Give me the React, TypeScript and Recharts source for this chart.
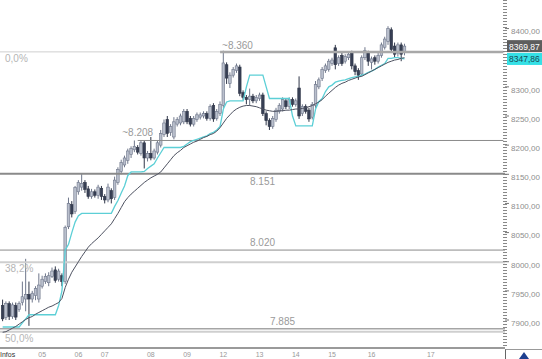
import React from 'react';
import { ComposedChart, Bar, Line, XAxis, YAxis, ReferenceLine } from 'recharts';

const opens = [
  7925, 7904, 7928, 7906, 7925, 7918, 7930, 7936, 7944, 7936,
  7942, 7936, 7958, 7966, 7964, 7975, 7986, 7970, 7976, 7966,
  8060, 8098, 8086, 8120, 8128, 8136, 8125, 8112, 8120, 8114,
  8126, 8112, 8106, 8122, 8110, 8136, 8155, 8166, 8174, 8184,
  8192, 8196, 8186, 8204, 8178, 8186, 8178, 8188, 8200, 8218,
  8244, 8222, 8214, 8236, 8238, 8240, 8258, 8246, 8236, 8244,
  8248, 8250, 8254, 8246, 8268, 8246, 8254, 8268, 8338, 8306,
  8320, 8328, 8334, 8290, 8282, 8278, 8284, 8276, 8280, 8286,
  8254, 8242, 8232, 8244, 8258, 8262, 8276, 8266, 8278, 8270,
  8298, 8254, 8266, 8260, 8248, 8268, 8300, 8314, 8328, 8330,
  8340, 8367, 8340, 8354, 8344, 8350, 8358, 8336, 8328, 8322,
  8350, 8358, 8342, 8350, 8344, 8354, 8368, 8378, 8398, 8370,
  8358, 8372, 8360,
];
const highs = [
  7935, 7932, 7932, 7930, 7930, 7932, 7966, 8005, 7966, 7950,
  7958, 7980, 7976, 7980, 7982, 7990, 7992, 7988, 7980, 8062,
  8110, 8104, 8130, 8140, 8152, 8140, 8130, 8125, 8124, 8132,
  8130, 8116, 8134, 8126, 8146, 8162, 8175, 8182, 8194, 8198,
  8208, 8200, 8208, 8208, 8190, 8214, 8194, 8208, 8226, 8244,
  8250, 8236, 8248, 8248, 8254, 8262, 8262, 8250, 8250, 8256,
  8256, 8258, 8258, 8270, 8272, 8262, 8275, 8362, 8342, 8325,
  8334, 8340, 8338, 8294, 8286, 8297, 8288, 8286, 8290, 8290,
  8258, 8246, 8250, 8264, 8272, 8282, 8280, 8282, 8282, 8280,
  8318, 8270, 8270, 8264, 8274, 8310, 8316, 8334, 8340, 8348,
  8350, 8372, 8354, 8360, 8356, 8360, 8362, 8340, 8332, 8354,
  8368, 8362, 8352, 8354, 8358, 8376, 8386, 8404, 8402, 8376,
  8376, 8376, 8374,
];
const lows = [
  7898, 7900, 7900, 7902, 7900, 7914, 7925, 7915, 7890, 7930,
  7934, 7930, 7954, 7962, 7958, 7972, 7964, 7966, 7958, 7962,
  8056, 8076, 8082, 8115, 8122, 8118, 8108, 8108, 8110, 8108,
  8106, 8100, 8102, 8100, 8106, 8132, 8150, 8162, 8168, 8178,
  8188, 8184, 8182, 8160, 8172, 8174, 8175, 8184, 8196, 8214,
  8214, 8216, 8210, 8232, 8234, 8236, 8236, 8232, 8232, 8240,
  8244, 8246, 8242, 8242, 8240, 8242, 8250, 8264, 8305, 8298,
  8316, 8324, 8284, 8278, 8270, 8268, 8272, 8272, 8276, 8250,
  8234, 8226, 8228, 8240, 8254, 8258, 8262, 8262, 8266, 8266,
  8245, 8250, 8254, 8240, 8244, 8264, 8296, 8310, 8324, 8326,
  8336, 8330, 8336, 8336, 8340, 8346, 8330, 8320, 8312, 8318,
  8346, 8336, 8330, 8338, 8340, 8350, 8364, 8372, 8358, 8350,
  8352, 8344, 8354,
];
const closes = [
  7902, 7928, 7906, 7926, 7905, 7928, 7940, 7944, 7936, 7946,
  7954, 7960, 7970, 7975, 7976, 7984, 7968, 7984, 7966, 8059,
  8100, 8082, 8127, 8136, 8134, 8124, 8112, 8120, 8114, 8128,
  8112, 8106, 8128, 8108, 8140, 8158, 8170, 8178, 8190, 8194,
  8198, 8188, 8204, 8178, 8186, 8178, 8190, 8204, 8220, 8238,
  8220, 8232, 8240, 8244, 8250, 8258, 8240, 8236, 8246, 8252,
  8252, 8254, 8246, 8266, 8245, 8258, 8270, 8341, 8315, 8320,
  8330, 8336, 8289, 8282, 8278, 8284, 8276, 8282, 8286, 8254,
  8242, 8232, 8246, 8260, 8268, 8278, 8266, 8278, 8270, 8276,
  8250, 8266, 8258, 8245, 8270, 8304, 8312, 8330, 8336, 8344,
  8346, 8338, 8350, 8340, 8352, 8356, 8336, 8326, 8320, 8350,
  8362, 8344, 8348, 8344, 8354, 8372, 8382, 8400, 8364, 8356,
  8372, 8356, 8369.87,
];
// cyan trailing line
const trailLine = [
  7888, 7888, 7888, 7888, 7888, 7888, 7895, 7902, 7909, 7909,
  7909, 7909, 7909, 7909, 7909, 7909, 7909, 7925, 7950, 8020,
  8030, 8050, 8068, 8079, 8083, 8083, 8083, 8083, 8083, 8083,
  8083, 8083, 8083, 8083, 8095, 8105, 8118, 8130, 8148, 8154,
  8154, 8154, 8154, 8155, 8160, 8164, 8168, 8178, 8187, 8196,
  8196, 8196, 8196, 8196, 8196, 8198, 8202, 8206, 8208, 8210,
  8212, 8214, 8216, 8220, 8222, 8226, 8232, 8262, 8274, 8276,
  8276, 8276, 8276, 8276, 8300, 8320, 8320, 8320, 8320, 8320,
  8300, 8280, 8280, 8280, 8280, 8280, 8280, 8280, 8250, 8233,
  8233, 8233, 8233, 8233, 8233, 8262, 8275, 8280, 8292, 8300,
  8303, 8308, 8310, 8311, 8312, 8314, 8316, 8317, 8318, 8320,
  8322, 8325, 8327, 8330, 8334, 8337, 8340, 8349, 8349, 8350,
  8350, 8349, 8347.86,
];
// dark moving average
const maLine = [
  7879, 7880, 7883, 7886, 7889, 7893, 7897, 7901, 7904, 7906,
  7910, 7913, 7916, 7919, 7922, 7924, 7927, 7930, 7937, 7956,
  7970, 7982, 7991, 8000, 8009, 8017, 8025, 8031, 8036, 8041,
  8047, 8053, 8059, 8065, 8074, 8083, 8093, 8103, 8110, 8116,
  8121, 8126, 8131, 8136, 8140, 8144, 8147, 8150, 8154, 8161,
  8168, 8175, 8182, 8187, 8191, 8196, 8199, 8202, 8205, 8207,
  8210, 8213, 8215, 8218, 8220, 8224, 8230, 8238, 8246, 8252,
  8258, 8262, 8265, 8267, 8268, 8268, 8267, 8266, 8264, 8262,
  8260, 8259, 8258, 8258, 8259, 8259, 8260, 8260, 8261, 8262,
  8262, 8263, 8264, 8266, 8268, 8271, 8274, 8278, 8284, 8289,
  8294, 8299, 8303, 8306, 8308, 8311, 8313, 8315, 8317, 8318,
  8321, 8324, 8327, 8330, 8333, 8336, 8339, 8342, 8344, 8346,
  8347, 8349, 8350,
];

const dayTicks = [0, 12, 23, 31, 45, 56, 67, 78, 89, 100, 112, 130];
const dayLabels = ['Infos', '05', '06', '07', '08', '09', '12', '13', '14', '15', '16', '17'];
const priceTicks = [7900, 7950, 8000, 8050, 8100, 8150, 8200, 8250, 8300, 8400];
const rulerTicks = [7875, 7900, 7925, 7950, 7975, 8000, 8025, 8050, 8075, 8100, 8125, 8150, 8175, 8200, 8225, 8250, 8275, 8300, 8325, 8350, 8375, 8400, 8425];

const fibLevels = [
  { value: 8360, label: '0,0%' },
  { value: 7999, label: '38,2%' },
  { value: 7880, label: '50,0%' },
];
const lastClose = 8369.87;
const lastTrail = 8347.86;

const SLOTS = 153;
const rows = Array.from({ length: SLOTS }, (_, i) =>
  i < closes.length
    ? {
        i,
        open: opens[i],
        high: highs[i],
        low: lows[i],
        close: closes[i],
        range: [lows[i], highs[i]],
        trail: trailLine[i],
        ma: maLine[i],
      }
    : { i }
);

const FONT = '"Liberation Sans", Arial, sans-serif';

const Candle = (props: any) => {
  const { x, y, width, height, payload } = props;
  if (!payload || payload.high == null) return null;
  const { open, close, high, low } = payload;
  const top = Math.min(y, y + height);
  const h = Math.abs(height);
  const span = high - low || 1;
  const py = (v: number) => top + ((high - v) / span) * h;
  const up = close >= open;
  const cx = x + width / 2;
  const b1 = py(Math.max(open, close));
  const b2 = py(Math.min(open, close));
  const edge = up ? '#6f778b' : '#2f3648';
  return (
    <g>
      <line x1={cx} x2={cx} y1={top} y2={top + h} stroke={edge} strokeWidth={1} />
      <rect
        x={x - 0.3}
        y={b1}
        width={width + 0.6}
        height={Math.max(1.5, b2 - b1)}
        fill={up ? '#b9bfcc' : '#373f54'}
        stroke={edge}
        strokeWidth={0.6}
      />
    </g>
  );
};

const RulerTick = (props: any) => (
  <line x1={0} x2={3} y1={props.y} y2={props.y} stroke="#9a9a9a" strokeWidth={1} />
);

const DayTick = (props: any) => {
  const { x, y, payload, index } = props;
  const first = index === 0;
  return (
    <text
      x={first ? 0 : x}
      y={y}
      dy={7}
      textAnchor={first ? 'start' : 'middle'}
      fontSize={7}
      fontFamily={FONT}
      fill={first ? '#333' : '#999'}
    >
      {dayLabels[dayTicks.indexOf(payload.value)]}
    </text>
  );
};

const levelLabel = (text: string, dx: number, dy: number, anchor = 'start', color = '#9a9a9a') =>
  ({ viewBox }: any) => (
    <text
      x={viewBox.x + dx}
      y={viewBox.y + dy}
      textAnchor={anchor}
      fontSize={10}
      fontFamily={FONT}
      fill={color}
    >
      {text}
    </text>
  );

const priceBox = (text: string, bg: string, fg: string) => ({ viewBox }: any) => (
  <g>
    <rect x={viewBox.x + viewBox.width + 2} y={viewBox.y - 6} width={36} height={12} fill={bg} />
    <text
      x={viewBox.x + viewBox.width + 4}
      y={viewBox.y + 3.5}
      fontSize={8.5}
      fontFamily={FONT}
      fill={fg}
    >
      {text}
    </text>
  </g>
);

export default function App() {
  return (
    <div style={{ position: 'absolute', left: 0, top: 0, width: 542, height: 359, background: '#fff' }}>
      <ComposedChart
        width={542}
        height={359}
        data={rows}
        margin={{ top: 0, right: 0, bottom: 0, left: 0 }}
        barCategoryGap={0.6}
      >
        <XAxis
          dataKey="i"
          type="category"
          ticks={dayTicks}
          interval={0}
          tick={<DayTick />}
          tickLine={false}
          tickSize={0}
          tickMargin={2}
          height={11}
          padding={{ left: 1, right: 0 }}
          axisLine={{ stroke: '#9a9a9a', strokeWidth: 2 }}
        />
        <YAxis
          yAxisId="p"
          orientation="right"
          width={37}
          domain={[7852, 8449]}
          type="number"
          ticks={priceTicks}
          interval={0}
          tickSize={4}
          tickMargin={2}
          tickLine={{ stroke: '#777' }}
          axisLine={{ stroke: '#888', strokeWidth: 4, strokeDasharray: '1 2' }}
          tick={{ fontSize: 8, fontFamily: FONT, fill: '#8e8e8e', dy: 3 }}
          tickFormatter={(v: number) => v.toFixed(2).replace('.', ',')}
        />
        <YAxis
          yAxisId="l"
          orientation="left"
          width={0}
          domain={[7852, 8449]}
          type="number"
          ticks={rulerTicks}
          interval={0}
          axisLine={false}
          tickLine={false}
          tick={<RulerTick />}
        />

        {fibLevels.map((f, k) => (
          <ReferenceLine
            key={f.label}
            yAxisId="p"
            y={f.value}
            stroke="#cfcfcf"
            strokeWidth={k === 0 ? 1 : 2}
            label={levelLabel(f.label, 5, 10, 'start', '#b5b5b5')}
          />
        ))}
        <ReferenceLine
          yAxisId="p"
          segment={[{ x: 66, y: 8360 }, { x: SLOTS - 1, y: 8360 }]}
          stroke="#a8a8a8"
          strokeWidth={2.5}
          label={levelLabel('~8.360', 2, -3)}
        />
        <ReferenceLine
          yAxisId="p"
          segment={[{ x: 41, y: 8208 }, { x: SLOTS - 1, y: 8208 }]}
          stroke="#8a8a8a"
          strokeWidth={1}
          label={levelLabel('~8.208', 0, -4, 'middle')}
        />
        <ReferenceLine yAxisId="p" y={8151} stroke="#8a8a8a" strokeWidth={2} label={levelLabel('8.151', 250, 11)} />
        <ReferenceLine yAxisId="p" y={8020} stroke="#8a8a8a" strokeWidth={1} label={levelLabel('8.020', 250, -4)} />
        <ReferenceLine yAxisId="p" y={7885} stroke="#a5a5a5" strokeWidth={1.5} label={levelLabel('7.885', 270, -4)} />

        <Bar yAxisId="p" dataKey="range" shape={<Candle />} isAnimationActive={false} />
        <Line
          yAxisId="p"
          dataKey="trail"
          stroke="#5ccfd6"
          strokeWidth={1.3}
          dot={false}
          activeDot={false}
          isAnimationActive={false}
        />
        <Line
          yAxisId="p"
          dataKey="ma"
          stroke="#4d5160"
          strokeWidth={1}
          dot={false}
          activeDot={false}
          isAnimationActive={false}
        />

        <ReferenceLine yAxisId="p" y={lastClose} stroke="none" label={priceBox('8369,87', '#5d5d5d', '#fff')} />
        <ReferenceLine yAxisId="p" y={lastTrail} stroke="none" label={priceBox('8347,86', '#35e0e6', '#1a4a55')} />
      </ComposedChart>
      <div
        style={{
          position: 'absolute',
          left: 505,
          top: 349,
          width: 37,
          height: 10,
          borderLeft: '1px solid #666',
          borderTop: '1px solid #999',
          boxSizing: 'border-box',
        }}
      >
        <svg width={36} height={10} style={{ position: 'absolute', left: 0, top: 0 }}>
          <polygon points="18,2 13,9 23,9" fill="#1d3f8f" />
        </svg>
      </div>
    </div>
  );
}
